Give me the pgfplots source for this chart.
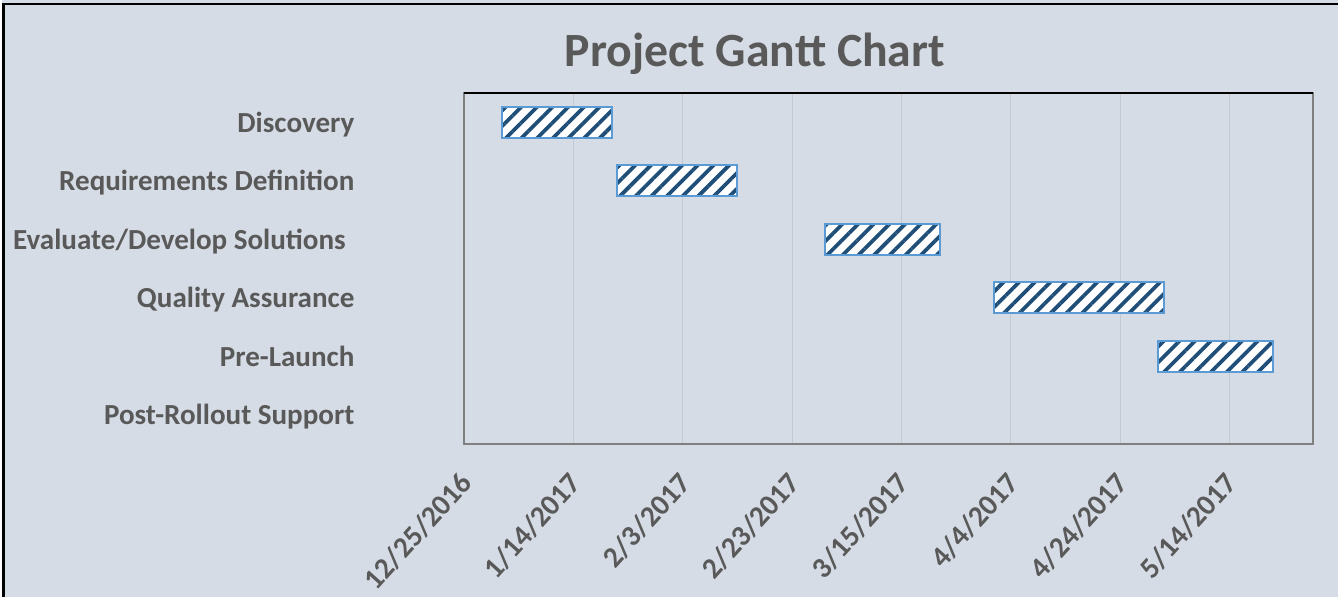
\documentclass[border=0pt]{standalone}
\usepackage{pgfplots}
\pgfplotsset{compat=1.18}
\usetikzlibrary{patterns.meta}
\usepackage{fontspec}
\setmainfont{Carlito}
\definecolor{bg}{HTML}{D6DCE5}
\definecolor{txt}{HTML}{595959}
\definecolor{barborder}{HTML}{5B9BD5}
\definecolor{stripe}{HTML}{1F4E79}
\definecolor{gridc}{HTML}{C4C9D1}
\definecolor{framec}{HTML}{7F7F7F}
\begin{document}
\begin{tikzpicture}
\useasboundingbox (0,0) rectangle (1003.5pt,447.75pt);
\fill[bg] (0,0) rectangle (1003.5pt,447.75pt);
\fill[white] (0,0) rectangle (1.5pt,447.75pt);
\draw[black, line width=1.5pt] (1.5pt,444.75pt) -- (1003.5pt,444.75pt);
\draw[black, line width=2.25pt] (2.6pt,0pt) -- (2.6pt,445.5pt);
\node[font=\bfseries\fontsize{35.8}{40}\selectfont, text=txt, anchor=base, inner sep=0pt] at (566.25pt,397.75pt) {Project Gantt Chart};
\begin{axis}[
  name=ax,
  at={(348pt,114.75pt)}, anchor=south west,
  scale only axis, width=636.75pt, height=263.25pt,
  xbar stacked, bar width=23.25pt,
  xmin=0, xmax=155.3,
  ymin=-0.5, ymax=5.5, y dir=reverse,
  ytick={0,...,5},
  yticklabels={Discovery, Requirements Definition, Evaluate/Develop Solutions\hspace*{6.5pt}, Quality Assurance, Pre-Launch, Post-Rollout Support},
  xtick={0,20,...,140},
  xticklabels={12/25/2016,1/14/2017,2/3/2017,2/23/2017,3/15/2017,4/4/2017,4/24/2017,5/14/2017},
  major tick length=0pt,
  xmajorgrids, grid style={gridc, line width=0.75pt},
  axis line style={framec, line width=1.2pt},
  yticklabel style={font=\bfseries\fontsize{21.8}{24}\selectfont, text=txt, anchor=base east, inner sep=0pt, xshift=-82pt, yshift=-7.6pt},
  xticklabel style={font=\bfseries\fontsize{22}{24}\selectfont, text=txt, inner sep=0pt, xshift=-4.5pt, yshift=-19.5pt, rotate=48, anchor=north east},
]
\addplot[draw=none, fill=none] coordinates {(7,0) (28,1) (66,2) (97,3) (127,4)};
\addplot[draw=barborder, line width=1.4pt, preaction={fill=white}, pattern={Lines[angle=45, distance=8.3pt, line width=2.8pt]}, pattern color=stripe] coordinates {(20,0) (22,1) (21,2) (31,3) (21,4)};
\end{axis}
\draw[black, line width=1.5pt] (ax.north west) -- (ax.north east);
\end{tikzpicture}
\end{document}
